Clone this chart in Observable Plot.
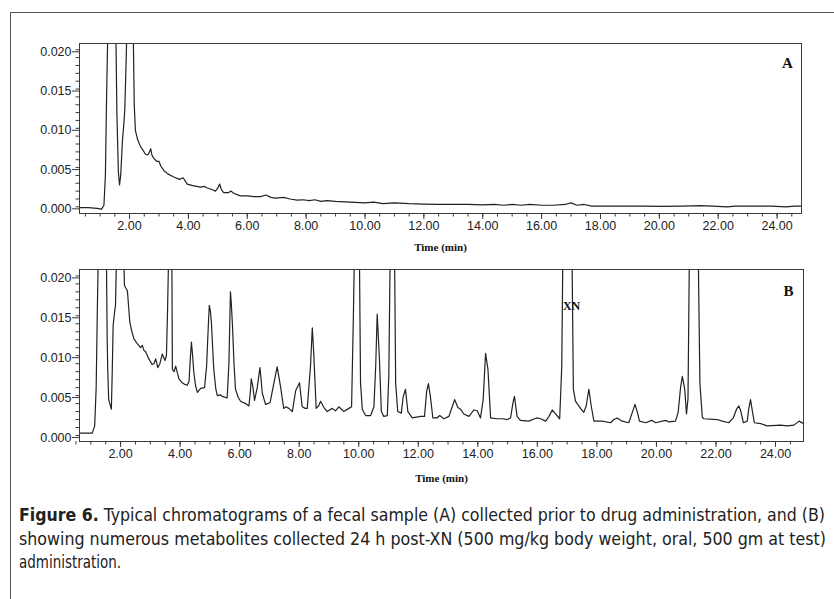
<!DOCTYPE html>
<html><head><meta charset="utf-8">
<script src="https://cdn.jsdelivr.net/npm/d3@7"></script>
<script src="https://cdn.jsdelivr.net/npm/@observablehq/plot@0.6"></script>
<style>
body{margin:0;background:#fff;}
#fig{position:relative;width:834px;height:599px;overflow:hidden;background:#fff;}
#frame{position:absolute;left:10px;top:12px;width:840px;height:620px;border-left:1.5px solid #555;border-top:1.5px solid #555;}
#a{position:absolute;left:0;top:0}
#b{position:absolute;left:0;top:260px}
#cap{position:absolute;left:0;top:490px}
</style></head><body>
<div id="fig"><div id="frame"></div><div id="a"></div><div id="b"></div><svg id="cap" width="834" height="109"></svg></div>
<script>
// ---- Data ----
const timeA = [0.30,0.60,0.90,1.05,1.13,1.18,1.22,1.27,1.40,1.53,1.57,1.62,1.66,1.70,1.76,1.81,1.84,1.88,1.92,2.02,2.12,2.16,2.20,2.28,2.37,2.46,2.54,2.62,2.68,2.72,2.76,2.82,2.92,3.00,3.06,3.17,3.30,3.50,3.70,3.82,3.96,4.15,4.41,4.55,4.64,4.80,4.92,5.00,5.06,5.12,5.20,5.35,5.45,5.55,5.77,6.00,6.22,6.45,6.64,6.80,6.95,7.24,7.45,7.70,7.90,8.10,8.30,8.50,8.70,9.00,9.50,10.00,10.30,10.60,11.00,11.50,12.00,12.50,13.00,13.50,14.00,14.40,14.70,15.00,15.30,15.60,16.00,16.40,16.80,17.00,17.20,17.45,17.70,18.50,19.50,20.10,20.80,21.40,21.80,22.30,22.60,23.20,23.80,24.30,24.60,24.83];
const absA = [-0.0001,-0.0001,-0.0002,-0.0003,0.0002,0.004,0.014,0.024,0.045,0.024,0.012,0.0045,0.0028,0.004,0.0085,0.0107,0.0125,0.018,0.024,0.04,0.024,0.0130,0.0097,0.0085,0.0077,0.0072,0.0067,0.0066,0.0070,0.0074,0.0066,0.0062,0.0058,0.0058,0.0052,0.0046,0.0042,0.0038,0.0035,0.0037,0.0029,0.0027,0.0025,0.0026,0.0024,0.0022,0.0020,0.0024,0.0029,0.0022,0.0018,0.0018,0.0020,0.0017,0.0014,0.0014,0.0013,0.0013,0.0015,0.0012,0.0011,0.0012,0.0010,0.00085,0.0009,0.0008,0.0009,0.0007,0.0008,0.0007,0.0006,0.0005,0.0006,0.0004,0.0005,0.0004,0.00035,0.0003,0.0003,0.0003,0.00025,0.0003,0.0002,0.0003,0.0002,0.0003,0.0002,0.0002,0.0003,0.0005,0.0002,0.0003,0.0001,0.0001,0.0001,0.00005,0.0001,0.00015,0.0001,0.0000,0.0001,0.0001,0.0001,0.0000,0.0001,0.0001];

const timeB = [0.62,0.90,1.05,1.13,1.18,1.22,1.26,1.40,1.52,1.55,1.57,1.60,1.69,1.72,1.75,1.80,1.83,1.87,2.00,2.10,2.13,2.23,2.31,2.38,2.45,2.56,2.67,2.73,2.78,2.84,2.95,3.06,3.12,3.18,3.25,3.32,3.40,3.49,3.54,3.58,3.62,3.67,3.72,3.74,3.80,3.85,3.96,4.07,4.16,4.24,4.30,4.34,4.38,4.42,4.46,4.52,4.58,4.69,4.82,4.89,4.95,4.98,5.02,5.05,5.13,5.20,5.25,5.35,5.42,5.58,5.64,5.69,5.72,5.76,5.81,5.86,5.95,6.03,6.20,6.31,6.36,6.39,6.44,6.50,6.59,6.68,6.72,6.76,6.87,7.02,7.13,7.26,7.37,7.48,7.56,7.65,7.77,7.88,8.01,8.10,8.20,8.27,8.38,8.44,8.49,8.57,8.65,8.72,8.83,8.94,9.11,9.22,9.33,9.50,9.67,9.76,9.82,9.86,9.95,10.02,10.06,10.12,10.23,10.40,10.51,10.57,10.62,10.69,10.76,10.84,10.96,11.01,11.06,11.12,11.20,11.24,11.31,11.43,11.49,11.57,11.65,11.80,12.08,12.21,12.28,12.34,12.41,12.49,12.63,12.72,12.86,13.03,13.14,13.22,13.33,13.42,13.53,13.70,13.87,13.98,14.09,14.18,14.26,14.34,14.43,14.65,14.82,14.99,15.10,15.18,15.23,15.32,15.43,15.71,15.97,16.11,16.28,16.39,16.50,16.61,16.75,16.82,16.86,17.00,17.16,17.21,17.28,17.45,17.56,17.64,17.73,17.81,17.90,18.18,18.46,18.57,18.68,18.85,19.07,19.19,19.28,19.36,19.43,19.64,19.84,19.97,20.31,20.42,20.64,20.73,20.81,20.87,20.95,21.01,21.06,21.11,21.25,21.40,21.46,21.54,21.59,22.04,22.21,22.43,22.58,22.69,22.77,22.83,22.92,23.05,23.10,23.16,23.23,23.29,23.50,23.72,24.17,24.39,24.62,24.79,24.94];
const absB = [0.0003,0.0003,0.0003,0.0012,0.006,0.016,0.024,0.045,0.024,0.012,0.0081,0.0045,0.0033,0.008,0.0138,0.0155,0.0163,0.024,0.045,0.024,0.0188,0.0181,0.0142,0.0130,0.0121,0.0115,0.0110,0.0113,0.0107,0.0105,0.0096,0.0089,0.0090,0.0096,0.0085,0.0090,0.0102,0.0094,0.0100,0.016,0.024,0.035,0.024,0.0083,0.0080,0.0087,0.0071,0.0066,0.0064,0.0063,0.0068,0.0095,0.0117,0.0100,0.0079,0.0062,0.0054,0.0059,0.0060,0.0087,0.0140,0.0163,0.0155,0.0142,0.0083,0.0058,0.0050,0.0051,0.0049,0.0047,0.0091,0.0180,0.0165,0.0137,0.0090,0.0058,0.0048,0.0043,0.0040,0.0037,0.0055,0.0071,0.0062,0.0044,0.0060,0.0085,0.0070,0.0053,0.0039,0.0041,0.0062,0.0086,0.0062,0.0034,0.0036,0.0034,0.0030,0.0056,0.0066,0.0036,0.0034,0.0034,0.0087,0.0135,0.0102,0.0034,0.0037,0.0043,0.0035,0.0030,0.0034,0.0031,0.0036,0.0030,0.0034,0.0036,0.015,0.024,0.045,0.024,0.0066,0.0033,0.0025,0.0025,0.0036,0.0087,0.0152,0.0100,0.0030,0.0024,0.0025,0.0075,0.024,0.045,0.024,0.0066,0.0030,0.0028,0.0048,0.0058,0.0030,0.0022,0.0024,0.0024,0.0055,0.0065,0.0048,0.0022,0.0022,0.0025,0.0021,0.0024,0.0036,0.0045,0.0035,0.0033,0.0027,0.0024,0.0032,0.0031,0.0022,0.0045,0.0103,0.0083,0.0022,0.0021,0.0021,0.0020,0.0022,0.0041,0.0049,0.0024,0.0019,0.0018,0.0022,0.0021,0.0018,0.0024,0.0032,0.0027,0.0021,0.0087,0.024,0.045,0.024,0.0058,0.0043,0.0034,0.0029,0.0037,0.0058,0.0037,0.0018,0.0018,0.0016,0.0020,0.0022,0.0018,0.0016,0.0029,0.0039,0.0029,0.0018,0.0016,0.0019,0.0016,0.0019,0.0017,0.0018,0.0029,0.0060,0.0074,0.0058,0.0027,0.0046,0.024,0.045,0.024,0.0066,0.0023,0.0021,0.0020,0.0018,0.0016,0.0022,0.0033,0.0037,0.0031,0.0016,0.0018,0.0033,0.0045,0.0029,0.0016,0.0015,0.0012,0.0013,0.0012,0.0013,0.0018,0.0015];

const xMajorTicks = [2,4,6,8,10,12,14,16,18,20,22,24];
const xMinorTicks = d3.range(0.5, 25, 0.5);
const yMajorTicks = [0, 0.005, 0.010, 0.015, 0.020];
const yMinorTicks = d3.range(0, 0.0205, 0.001);
const xLabel = "Time (min)";
const panelTags = ["A", "B"];
const peakLabel = {t: 17.15, v: 0.0162, text: "XN"};
const captionLines = [
  ["Figure 6.", " Typical chromatograms of a fecal sample (A) collected prior to drug administration, and (B)"],
  ["", "showing numerous metabolites collected 24 h post-XN (500 mg/kg body weight, oral, 500 gm at test)"],
  ["", "administration."]
];

function chart(o) {
  const data = o.time.map((t, i) => ({t, v: o.abs[i]}));
  const marks = [
    Plot.line(data, {x: "t", y: "v", stroke: "#222", strokeWidth: 1.2, clip: true}),
    Plot.frame({stroke: "#3a3a3a", strokeWidth: 1}),
    Plot.axisX({ticks: xMinorTicks, tickSize: 3.5, tickFormat: () => "", label: null, stroke: "#3a3a3a"}),
    Plot.axisX({ticks: xMajorTicks, tickSize: 6, tickPadding: 1.5, tickFormat: d => d.toFixed(2), label: null, stroke: "#3a3a3a", fill: "#222", fontSize: 12.5}),
    Plot.axisY({ticks: yMinorTicks, tickSize: 3.5, tickFormat: () => "", label: null, stroke: "#3a3a3a"}),
    Plot.axisY({ticks: yMajorTicks, tickSize: 7, tickPadding: 1, tickFormat: d => d.toFixed(3), label: null, stroke: "#3a3a3a", fill: "#222", dy: 2, fontSize: 12.5}),
    Plot.text([xLabel], {text: d => d, frameAnchor: "bottom", dy: o.labelDy, fontFamily: "Liberation Serif, Times New Roman, serif", fontWeight: "bold", fontSize: 11, fill: "#111"}),
    Plot.text([o.tag], {text: d => d, frameAnchor: "top-right", dx: o.tagDx, dy: o.tagDy, textAnchor: "middle", fontFamily: "Liberation Serif, Times New Roman, serif", fontWeight: "bold", fontSize: 15, fill: "#111"})
  ];
  if (o.extra) marks.push(o.extra);
  return Plot.plot({
    width: 834, height: o.height,
    marginLeft: 79, marginRight: o.mr, marginTop: o.mt, marginBottom: o.mb,
    style: {fontFamily: "Liberation Sans, Arial, sans-serif", fontSize: "12px", color: "#222", background: "transparent", overflow: "visible"},
    x: {domain: o.xDomain},
    y: {domain: o.yDomain},
    marks
  });
}

document.getElementById("a").append(chart({
  time: timeA, abs: absA, xDomain: [0.30, 24.83], yDomain: [-0.00085, 0.0208],
  height: 260, mt: 43, mb: 47, mr: 33, labelDy: 37, tag: panelTags[0], tagDx: -14, tagDy: 14
}));
document.getElementById("b").append(chart({
  time: timeB, abs: absB, xDomain: [0.62, 24.94], yDomain: [-0.00075, 0.0208],
  height: 225, mt: 9, mb: 44, mr: 31, labelDy: 40, tag: panelTags[1], tagDx: -15, tagDy: 16,
  extra: Plot.text([peakLabel], {x: "t", y: "v", text: "text", fontFamily: "Liberation Serif, Times New Roman, serif", fontWeight: "bold", fontSize: 12, fill: "#111"})
}));

// caption
const svgNS = "http://www.w3.org/2000/svg";
const cap = document.getElementById("cap");
const baselines = [31, 55, 78];
const widths = [806, 807, 102];
captionLines.forEach((ln, i) => {
  const t = document.createElementNS(svgNS, "text");
  t.setAttribute("x", 19);
  t.setAttribute("y", baselines[i]);
  t.setAttribute("font-family", "Liberation Sans Narrow, DejaVu Sans Condensed, Liberation Sans, sans-serif");
  t.setAttribute("font-size", 17.5);
  t.setAttribute("fill", "#222");
  if (ln[0]) {
    const b = document.createElementNS(svgNS, "tspan");
    b.setAttribute("font-weight", "bold");
    b.textContent = ln[0];
    t.appendChild(b);
  }
  const r = document.createElementNS(svgNS, "tspan");
  r.textContent = ln[1];
  t.appendChild(r);
  if (widths[i]) { t.setAttribute("textLength", widths[i]); t.setAttribute("lengthAdjust", "spacingAndGlyphs"); }
  cap.appendChild(t);
});
</script>
</body></html>
